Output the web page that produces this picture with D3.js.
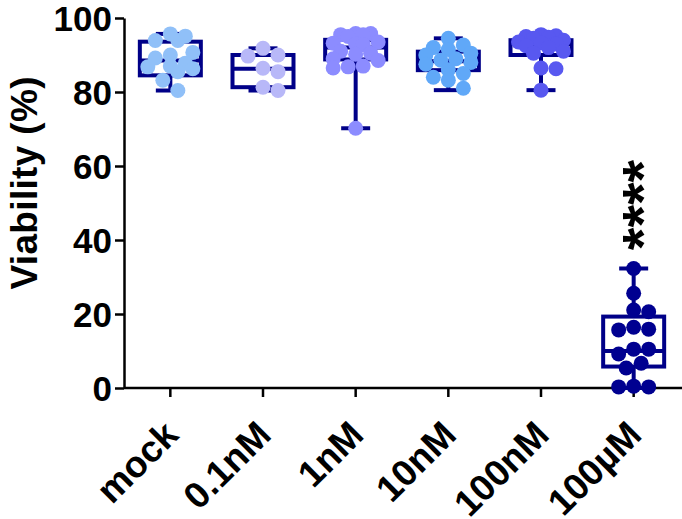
<!DOCTYPE html>
<html>
<head>
<meta charset="utf-8">
<script src="https://cdn.jsdelivr.net/npm/d3@7"></script>
<style>
  html, body { margin: 0; padding: 0; background: #fff; }
  svg { display: block; }
  text { font-family: Arial, "Liberation Sans", sans-serif; font-weight: bold; }
</style>
</head>
<body>
<svg id="chart" width="682" height="519"></svg>
<script>
// Treatment groups along the x axis
const categories = ["mock", "0.1nM", "1nM", "10nM", "100nM", "100µM"];

// Individual viability measurements (%) per group
const mockValues   = [95.7, 95.1, 93.9, 93.9, 90.7, 90.0, 89.2, 87.8, 87.0, 86.8, 86.3, 85.5, 83.2, 80.4];
const nM01Values   = [91.8, 90.0, 89.7, 86.4, 85.5, 81.3, 80.4];
const nM1Values    = [95.8, 95.8, 95.5, 95.5, 95.0, 93.5, 93.2, 93.0, 92.8, 91.0, 90.5, 90.2, 89.0, 88.5, 87.0, 86.8, 86.5, 70.2];
const nM10Values   = [94.5, 92.7, 92.0, 91.5, 90.5, 90.0, 89.0, 88.6, 88.0, 87.5, 86.0, 85.0, 84.0, 83.2, 81.0];
const nM100Values  = [95.5, 95.2, 95.0, 94.8, 94.5, 94.0, 93.5, 93.3, 93.0, 92.5, 92.0, 91.0, 90.5, 86.5, 86.3, 80.5];
const uM100Values  = [32.3, 25.6, 21.1, 20.6, 16.4, 15.9, 15.7, 10.5, 10.5, 9.2, 6.7, 5.4, 0.5, 0.3, 0.3];
const groupValues  = [mockValues, nM01Values, nM1Values, nM10Values, nM100Values, uM100Values];

// Box-and-whisker summaries (min to max whiskers)
const whiskerLow  = [80.4, 80.4, 70.2, 80.5, 80.5, 0.0];
const quartile1   = [84.5, 81.3, 88.8, 85.9, 90.0, 5.8];
const medians     = [88.5, 86.3, 92.0, 88.3, 93.0, 10.0];
const quartile3   = [93.6, 90.0, 94.1, 90.9, 94.0, 19.3];
const whiskerHigh = [95.7, 91.8, 95.8, 94.5, 95.5, 32.3];

// Point colours per group
const pointColors = ["#90c0f8", "#b8b8f8", "#8c8cff", "#60a8f8", "#5858f0", "#000090"];
const boxColor = "#000088";

// Axis ticks and significance marks
const yTicks = [0, 20, 40, 60, 80, 100];
const significance = ["", "", "", "", "", "****"];

const svg = d3.select("#chart");

const y = d3.scaleLinear().domain([0, 100]).range([388, 18]);
const x = d3.scaleBand().domain(categories).range([124, 680]).padding(0);

// Y axis
const yAxis = d3.axisLeft(y).tickValues(yTicks).tickSize(9).tickSizeOuter(0).tickPadding(3);
const gy = svg.append("g").attr("transform", "translate(124,0)").call(yAxis);
gy.select(".domain").attr("stroke", "#000").attr("stroke-width", 2.5);
gy.selectAll(".tick line").attr("stroke", "#000").attr("stroke-width", 2.5);
gy.selectAll(".tick text")
  .attr("fill", "#000")
  .style("font-size", "35px")
  .style("font-weight", "bold")
  .attr("dy", "0.36em");

// X axis
const xAxis = d3.axisBottom(x).tickSize(9).tickSizeOuter(0).tickFormat(() => "");
const gx = svg.append("g").attr("transform", "translate(0,388)").call(xAxis);
gx.select(".domain").attr("stroke", "#000").attr("stroke-width", 2.5).attr("d", "M124,0H682");
gx.selectAll(".tick line").attr("stroke", "#000").attr("stroke-width", 2.5);

// Rotated category labels
svg.append("g").selectAll("text")
  .data(categories)
  .join("text")
  .attr("text-anchor", "end")
  .attr("transform", d => `translate(${x(d) + x.bandwidth() / 2 + 10},${437}) rotate(-45)`)
  .style("font-size", "37px")
  .attr("fill", "#000")
  .text(d => d);

// Y axis title
svg.append("text")
  .attr("transform", "translate(37,183) rotate(-90)")
  .attr("text-anchor", "middle")
  .attr("textLength", 213)
  .attr("lengthAdjust", "spacing")
  .style("font-size", "37px")
  .attr("fill", "#000")
  .text("Viability (%)");

// Boxes
const boxW = 61;
const capW = 29;
const boxes = svg.append("g");
categories.forEach((c, i) => {
  const cx = x(c) + x.bandwidth() / 2;
  const g = boxes.append("g").attr("stroke", boxColor).attr("stroke-width", 4).attr("fill", "none");
  g.append("line").attr("x1", cx).attr("x2", cx).attr("y1", y(whiskerHigh[i])).attr("y2", y(quartile3[i]));
  g.append("line").attr("x1", cx).attr("x2", cx).attr("y1", y(quartile1[i])).attr("y2", y(whiskerLow[i]));
  g.append("line").attr("x1", cx - capW / 2).attr("x2", cx + capW / 2).attr("y1", y(whiskerHigh[i])).attr("y2", y(whiskerHigh[i]));
  g.append("line").attr("x1", cx - capW / 2).attr("x2", cx + capW / 2).attr("y1", y(whiskerLow[i])).attr("y2", y(whiskerLow[i]));
  g.append("rect").attr("x", cx - boxW / 2).attr("width", boxW)
    .attr("y", y(quartile3[i])).attr("height", y(quartile1[i]) - y(quartile3[i]));
  g.append("line").attr("x1", cx - boxW / 2).attr("x2", cx + boxW / 2).attr("y1", y(medians[i])).attr("y2", y(medians[i]));
});

// Beeswarm placement of the individual points
const r = 7.5;
function swarm(values) {
  const pts = values.map(v => ({ v, py: y(v) })).sort((a, b) => a.py - b.py);
  const placed = [];
  const step = r;
  const minD = 2 * r * 0.95;
  const maxOff = 26;
  const candidates = [0];
  for (let k = 1; k * step <= maxOff; k++) candidates.push(k * step, -k * step);
  for (const p of pts) {
    let chosen = null;
    for (const o of candidates) {
      if (placed.every(q => Math.hypot(q.dx - o, q.py - p.py) >= minD)) { chosen = o; break; }
    }
    if (chosen === null) {
      let bestD = -1;
      for (const o of candidates) {
        const d = d3.min(placed, q => Math.hypot(q.dx - o, q.py - p.py));
        if (d > bestD + 0.5) { bestD = d; chosen = o; }
      }
    }
    p.dx = chosen;
    placed.push(p);
  }
  return placed;
}

const pointsG = svg.append("g");
categories.forEach((c, i) => {
  const cx = x(c) + x.bandwidth() / 2;
  pointsG.append("g").selectAll("circle")
    .data(swarm(groupValues[i]))
    .join("circle")
    .attr("cx", d => cx + d.dx)
    .attr("cy", d => d.py)
    .attr("r", r)
    .attr("fill", pointColors[i]);
});

// Significance stars above groups
categories.forEach((c, i) => {
  if (!significance[i]) return;
  const cx = x(c) + x.bandwidth() / 2;
  svg.append("text")
    .attr("transform", `translate(${cx + 29},${205}) rotate(-90)`)
    .attr("text-anchor", "middle")
    .style("font-size", "58px")
    .attr("fill", "#000")
    .text(significance[i]);
});
</script>
</body>
</html>
